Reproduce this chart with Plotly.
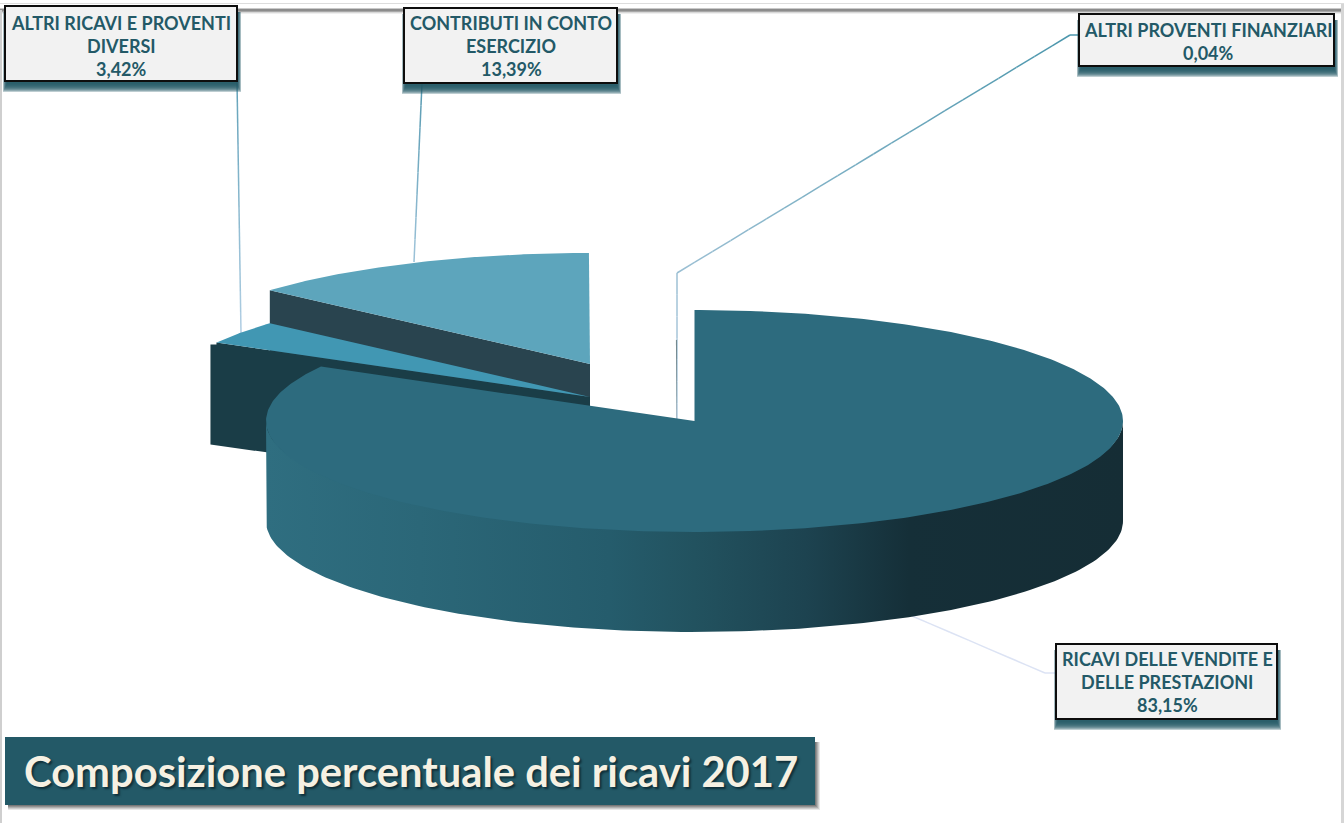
import numpy as np
import plotly.graph_objects as go

# Revenue composition, 2017 (percent of total)
categories = [
    ["RICAVI DELLE VENDITE E", "DELLE PRESTAZIONI"],
    ["ALTRI RICAVI E PROVENTI", "DIVERSI"],
    ["CONTRIBUTI IN CONTO", "ESERCIZIO"],
    ["ALTRI PROVENTI FINANZIARI"],
]
shares = [83.15, 3.42, 13.39, 0.04]
title_text = "Composizione percentuale dei ricavi 2017"

W, H = 1344, 823
RX, RY, DEPTH = 428.5, 111, 100
TEAL = "#235967"
LABEL_FONT = "Lato"
LABEL_LINE_HEIGHT = 23

# Each slice: apex position after explosion, and top / cut-face colours
slice_style = [
    dict(apex=(694.5, 421), top="#2D6B7E", side=None),
    dict(apex=(590, 397), top="#4197B3", side="#1A3D47"),
    dict(apex=(590, 364), top="#5DA5BC", side="#29444F"),
    dict(apex=(677, 451), top="#74898F", side=None),
]
# Label boxes (x0, y0, x1, y1) and text centres, in the same order as the categories
label_boxes = [
    (1056, 644, 1277, 719),
    (5, 6, 237, 81),
    (404, 8, 617, 83),
    (1079, 14, 1334, 66),
]
label_centres = [(1167, 682), (121, 46), (511, 46), (1208, 41.5)]
# Leader paths and their start / end colours
leaders = [
    ([(1056, 673), (1045, 673), (912, 616)], "#DCE3F4", "#DCE3F4"),
    ([(237, 81), (241, 333)], "#66A4BB", "#B4D0E5"),
    ([(422, 83), (414, 262)], "#5A9CB3", "#A3C6DC"),
    ([(1081, 35), (1070, 35), (677, 273), (677, 425)], "#4B96AC", "#B9CFE2"),
]
rim_colorscale = [
    [0.00, "#2F6E80"], [0.18, "#2B6778"], [0.40, "#255C6C"], [0.50, "#22525F"],
    [0.63, "#1D4350"], [0.75, "#152F38"], [1.00, "#152D35"],
]


def arc(apex, start_deg, end_deg, dy=0.0, n=160, ry=RY):
    """Points on the tilted pie rim, clockwise from 12 o'clock."""
    t = np.radians(np.linspace(start_deg, end_deg, n))
    return apex[0] + RX * np.sin(t), apex[1] - ry * np.cos(t) + dy


def polygon(x, y, color=None, **extra):
    style = dict(fillcolor=color) if color else {}
    return go.Scatter(
        x=list(x), y=list(y), mode="lines", fill="toself",
        line=dict(width=0), hoverinfo="skip", showlegend=False, **style, **extra,
    )


edges = np.concatenate([[0], np.cumsum(shares)]) * 3.6
angles = [(edges[i], edges[i + 1]) for i in range(len(shares))]

fig = go.Figure()

# Sliver of the smallest slice sits furthest back
a0, a1 = angles[3]
sx, sy = arc(slice_style[3]["apex"], a0, a1, n=6)
fig.add_trace(polygon([slice_style[3]["apex"][0], *sx], [slice_style[3]["apex"][1], *sy], slice_style[3]["top"]))

# Exploded slices: cut face first, then the top surface
for idx, overhang in ((2, 0), (1, 6)):
    st = slice_style[idx]
    ax, ay = st["apex"]
    a0, a1 = angles[idx]
    tx, ty = arc(st["apex"], a0, a1)
    drop = 2 if overhang else 0
    fig.add_trace(polygon(
        [tx[0], ax, ax, tx[0] - overhang, tx[0] - overhang, tx[0]],
        [ty[0], ay, ay + DEPTH, ty[0] + DEPTH + drop, ty[0] + drop, ty[0] + drop],
        st["side"],
    ))
    fig.add_trace(polygon([ax, *tx], [ay, *ty], st["top"]))

# Largest slice: shaded outer wall, then the top surface
main = slice_style[0]
a0, a1 = angles[0]
rx_top, ry_top = arc(main["apex"], 90, 270, ry=RY - 3)
rx_bot, ry_bot = arc(main["apex"], 90, 270, dy=DEPTH)
fig.add_trace(polygon(
    np.concatenate([rx_top, rx_bot[::-1]]),
    np.concatenate([ry_top, ry_bot[::-1]]),
    fillgradient=dict(type="horizontal", colorscale=rim_colorscale),
))
tx, ty = arc(main["apex"], a0, a1, n=400)
fig.add_trace(polygon([main["apex"][0], *tx], [main["apex"][1], *ty], main["top"]))

shapes = []


def rect(x0, y0, x1, y1, fill, line=None, width=0):
    shapes.append(dict(
        type="rect", xref="x", yref="y", x0=x0, y0=y0, x1=x1, y1=y1, layer="below",
        fillcolor=fill, line=dict(color=line or "rgba(0,0,0,0)", width=width),
    ))


def mix(c0, c1, f):
    a = [int(c0[i:i + 2], 16) for i in (1, 3, 5)]
    b = [int(c1[i:i + 2], 16) for i in (1, 3, 5)]
    return "rgb({},{},{})".format(*[round(p + (q - p) * f) for p, q in zip(a, b)])


# Page frame
rect(0, 3, W, 4, "#DDDDDD")
for k, shade in enumerate(["#C9C9C9", "#8C8C8C", "#8C8C8C", "#A8A8A8", "#D8D8D8", "#EFEFEF"]):
    rect(0, 8 + k, 1341, 9 + k, shade)
rect(0, 10, 2, H, "#CFCFCF")
rect(1341, 4, W, H, "#D6D6D6")

# Leader lines shade gradually along their length
for path, c0, c1 in leaders:
    pts = np.array(path, dtype=float)
    seg_len = np.hypot(*np.diff(pts, axis=0).T)
    total = seg_len.sum()
    done = 0.0
    for p, q, length in zip(pts[:-1], pts[1:], seg_len):
        steps = max(1, int(length // 20))
        for s in range(steps):
            f0, f1 = s / steps, (s + 1) / steps
            a = p + (q - p) * f0
            b = p + (q - p) * f1
            shapes.append(dict(
                type="line", xref="x", yref="y", layer="below",
                x0=a[0], y0=a[1], x1=b[0], y1=b[1],
                line=dict(color=mix(c0, c1, (done + length * f0) / total), width=1.5),
            ))
        done += length

annotations = []

# Value labels: soft teal drop shadow, boxed text, one annotation per line
for name, value, (x0, y0, x1, y1), (cx, cy) in zip(categories, shares, label_boxes, label_centres):
    for spread in range(8, -1, -1):
        rect(x0 + 2 - spread * 0.5, y0 + 6, x1 + spread * 0.5, y1 + 3 + spread, "rgba(35,89,103,0.3)")
    rect(x0, y0, x1, y1, "#F2F2F2", "#0D0D0D", 2)
    percent = f"{value:.2f}%".replace(".", ",")
    lines = [*name, percent]
    first = cy - LABEL_LINE_HEIGHT * (len(lines) - 1) / 2
    for i, text in enumerate(lines):
        annotations.append(dict(
            x=cx, y=first + i * LABEL_LINE_HEIGHT, xref="x", yref="y", text=f"<b>{text}</b>",
            showarrow=False, align="center", xanchor="center", yanchor="middle",
            font=dict(family=LABEL_FONT, size=18, color=TEAL),
        ))

# Title banner
for spread, alpha in ((5, 0.12), (4, 0.16), (3, 0.2), (2, 0.25), (1, 0.3)):
    rect(8, 742, 815 + spread, 805 + spread, f"rgba(60,60,60,{alpha})")
rect(5, 737, 815, 805, TEAL)
annotations.append(dict(
    x=410.5, y=771, xref="x", yref="y", text=f"<b>{title_text}</b>",
    showarrow=False, xanchor="center", yanchor="middle",
    font=dict(family=LABEL_FONT, size=41.7, color="#F6F1E3", shadow="2px 2px 2px #10303A"),
))

fig.update_layout(
    width=W, height=H, margin=dict(l=0, r=0, t=0, b=0, autoexpand=False),
    paper_bgcolor="white", plot_bgcolor="white", showlegend=False,
    xaxis=dict(range=[0, W], visible=False, fixedrange=True),
    yaxis=dict(range=[H, 0], visible=False, fixedrange=True),
    shapes=shapes, annotations=annotations,
)
fig.write_html("out.html", config=dict(displayModeBar=False))
